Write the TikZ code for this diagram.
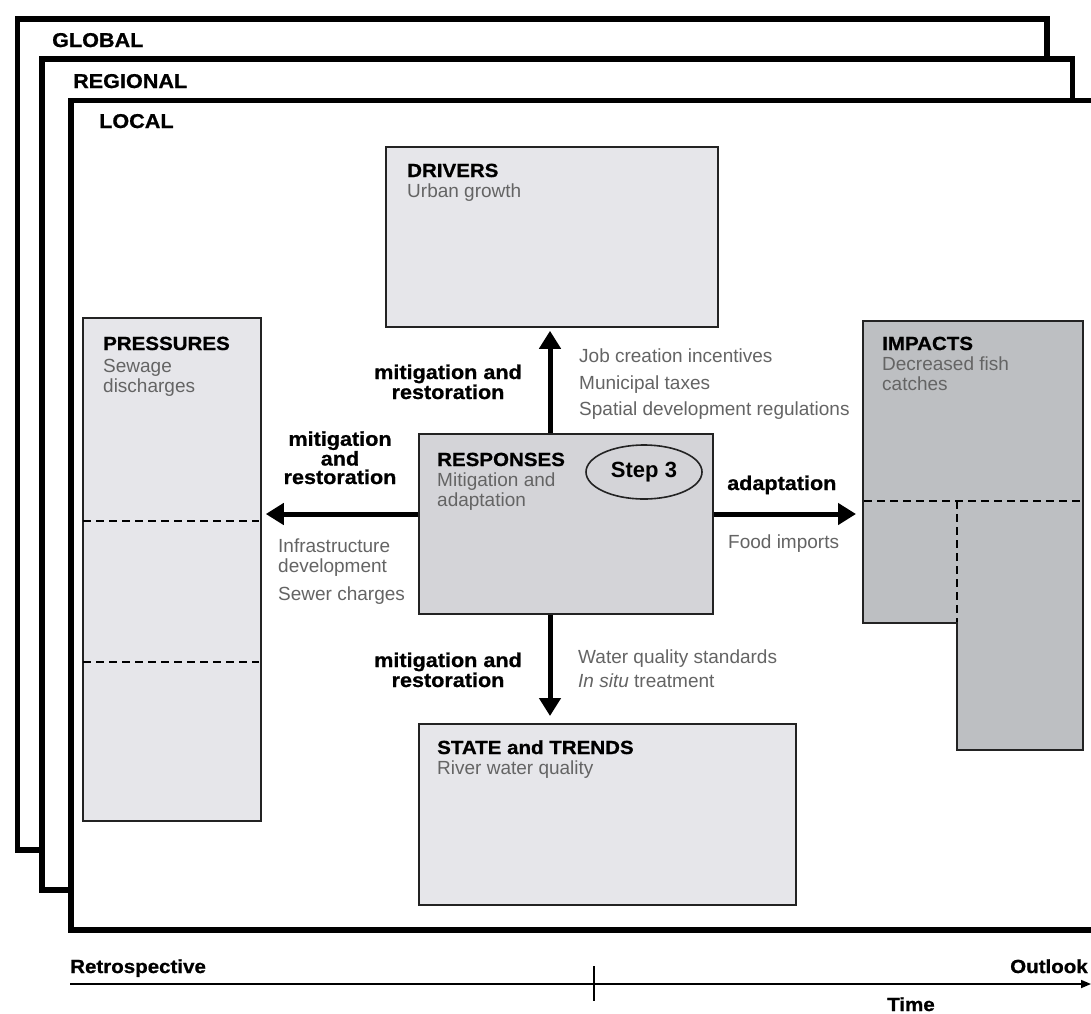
\documentclass[tikz,border=0pt]{standalone}
\usepackage{fontspec}
\setmainfont{Liberation Sans}
\newfontfamily\heavyfont[FakeStretch=1.08,FakeBold=0.8]{Liberation Sans}
\usetikzlibrary{arrows.meta,shapes.geometric}
\definecolor{lightbox}{RGB}{230,230,234}
\definecolor{midbox}{RGB}{212,212,216}
\definecolor{darkbox}{RGB}{189,191,194}
\definecolor{txtgray}{RGB}{100,100,100}
\definecolor{edgec}{RGB}{35,35,35}
\begin{document}
\begin{tikzpicture}[x=1pt,y=-1pt,
  frame/.style={draw=black,line width=5.5pt,fill=white,rectangle,anchor=north west,inner sep=0pt},
  box/.style={draw=edgec,line width=1.8pt,inner sep=0pt,rectangle,anchor=north west},
  head/.style={font=\heavyfont\bfseries\fontsize{19}{20}\selectfont,anchor=base west,inner sep=0pt,text=black},
  sub/.style={font=\fontsize{19}{20}\selectfont,anchor=base west,inner sep=0pt,text=txtgray,align=left},
  lbl/.style={font=\heavyfont\bfseries\fontsize{20}{20}\selectfont,anchor=base,inner sep=0pt,align=center,text=black},
  bigarrow/.style={line width=5pt,draw=black,-{Triangle[length=18pt,width=21pt]}},
  thinarrow/.style={line width=1.6pt,draw=black,-{Triangle[length=10pt,width=8pt]}},
  dsh/.style={draw=black,line width=1.9pt,dash pattern=on 8pt off 5pt}]
\useasboundingbox (0,0) rectangle (1091,1013);
\clip (0,0) rectangle (1091,1013);
\fill[white] (0,0) rectangle (1091,1013);
% frames
\node[frame,minimum width=1029.5pt,minimum height=831pt] (globalframe) at (14.5,16) {};
\node[frame,minimum width=1030.5pt,minimum height=831pt] (regionalframe) at (39,56) {};
\node[frame,minimum width=1100pt,minimum height=829.5pt] (localframe) at (68,97.5) {};
\node[head,font=\heavyfont\bfseries\fontsize{20}{20}\selectfont] (globaltxt) at (52,47) {GLOBAL};
\node[head,font=\heavyfont\bfseries\fontsize{20}{20}\selectfont] (regionaltxt) at (73,88) {REGIONAL};
\node[head,font=\heavyfont\bfseries\fontsize{20}{20}\selectfont] (localtxt) at (99,128) {LOCAL};
% boxes
\node[box,fill=lightbox,minimum width=332pt,minimum height=180pt] (drivers) at (385,146) {};
\node[head] (driverst) at (407,177) {DRIVERS};
\node[sub] (driverss) at (407,197) {Urban growth};

\node[box,fill=lightbox,minimum width=178pt,minimum height=503pt] (press) at (82,317) {};
\draw[dsh] (83,521) -- (259,521);
\draw[dsh] (83,662) -- (259,662);
\node[head] (presst) at (103,350) {PRESSURES};
\node[sub] (presss1) at (103,372) {Sewage};
\node[sub] (presss2) at (103,392) {discharges};

\node[box,fill=midbox,minimum width=294pt,minimum height=180pt] (resp) at (418,433) {};
\node[head] (respt) at (437,466) {RESPONSES};
\node[sub] (resps1) at (437,486) {Mitigation and};
\node[sub] (resps2) at (437,506) {adaptation};
\node[ellipse,draw=edgec,line width=1.6pt,minimum width=116pt,minimum height=54pt,inner sep=0pt,
      font=\bfseries\fontsize{22}{22}\selectfont] (step) at (644,472) {Step 3};

% impacts (L-shape)
\fill[darkbox] (863,321) -- (1083,321) -- (1083,750) -- (957,750) -- (957,623) -- (863,623) -- cycle;
\draw[dsh] (864,501) -- (1082,501);
\draw[dsh] (957,501) -- (957,623);
\draw[draw=edgec,line width=1.8pt] (863,321) -- (1083,321) -- (1083,750) -- (957,750) -- (957,623) -- (863,623) -- cycle;
\node[rectangle,inner sep=0pt,minimum width=220pt,minimum height=302pt,anchor=north west] (impacts) at (863,321) {};
\node[head] (impt) at (882,350) {IMPACTS};
\node[sub] (imps1) at (882,370) {Decreased fish};
\node[sub] (imps2) at (882,390) {catches};

\node[box,fill=lightbox,minimum width=377pt,minimum height=181pt] (state) at (418,723) {};
\node[head] (statet) at (437,754) {STATE and TRENDS};
\node[sub] (states) at (437,774) {River water quality};

% arrows
\coordinate (upx) at (550,0);
\coordinate (midy) at (0,514);
\draw[bigarrow,shorten >=3pt] (resp.north -| upx) -- (drivers.south -| upx);
\draw[bigarrow,shorten >=7pt] (resp.south -| upx) -- (state.north -| upx);
\draw[bigarrow,shorten >=4pt] (resp.west |- midy) -- (press.east |- midy);
\draw[bigarrow,shorten >=7pt] (resp.east |- midy) -- (impacts.west |- midy);

% labels
\node[lbl] (lup) at (448,399) {mitigation and\\restoration};
\node[lbl,font=\heavyfont\bfseries\fontsize{20}{18.5}\selectfont] (lleft) at (340,484) {mitigation\\and\\restoration};
\node[lbl] (ldown) at (448,687) {mitigation and\\restoration};
\node[head,font=\heavyfont\bfseries\fontsize{20}{20}\selectfont] (lright) at (727,490) {adaptation};

\node[sub] (j1) at (579,362) {Job creation incentives};
\node[sub] (j2) at (579,389) {Municipal taxes};
\node[sub] (j3) at (579,415) {Spatial development regulations};
\node[sub] (i1) at (278,552) {Infrastructure};
\node[sub] (i2) at (278,572) {development};
\node[sub] (i3) at (278,600) {Sewer charges};
\node[sub] (f1) at (728,548) {Food imports};
\node[sub] (w1) at (578,663) {Water quality standards};
\node[sub] (w2) at (578,687) {\textit{In situ} treatment};

% timeline
\coordinate (tstart) at (70,984);
\coordinate (tend) at (1091,984);
\coordinate (ticktop) at (594,966);
\coordinate (tickbot) at (594,1001);
\draw[thinarrow] (tstart) -- (tend);
\draw[line width=1.3pt] (ticktop) -- (tickbot);
\node[head] (retro) at (70,973) {Retrospective};
\node[head] (outlook) at (1010,973) {Outlook};
\node[head] (time) at (887,1011) {Time};
\end{tikzpicture}
\end{document}
